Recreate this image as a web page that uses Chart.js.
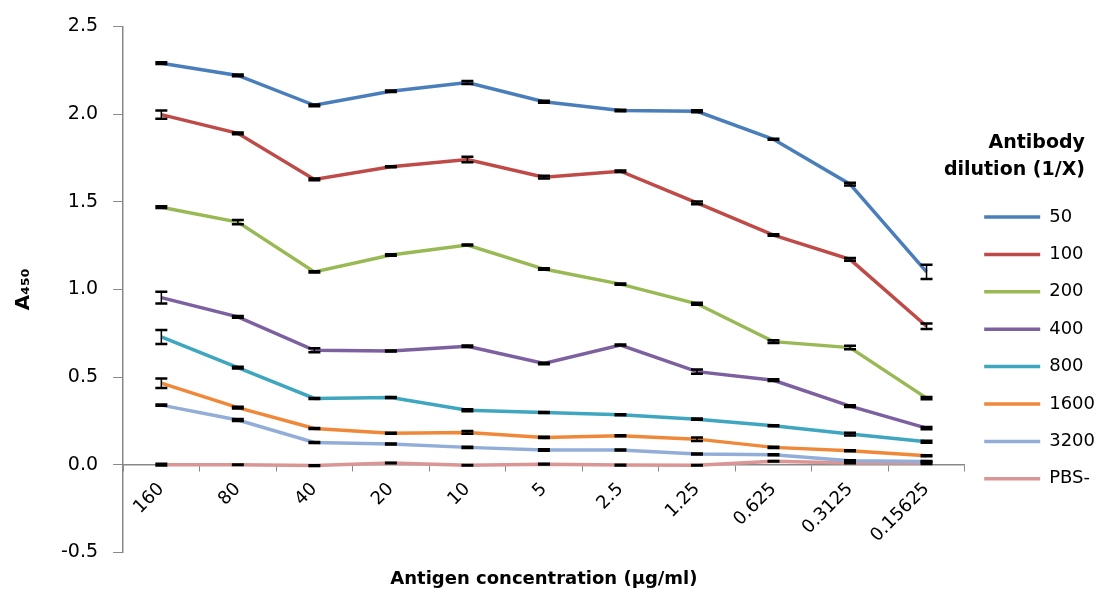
<!DOCTYPE html>
<html>
<head>
<meta charset="utf-8">
<script src="https://cdn.jsdelivr.net/npm/chart.js@4.4.1/dist/chart.umd.min.js"></script>
<style>
  html, body { margin: 0; padding: 0; background: #fff; }
  #wrap { width: 1105px; height: 592px; }
</style>
</head>
<body>
<div id="wrap"><canvas id="elisaChart"></canvas></div>
<script>
// antigen concentration (ug/ml) on the x axis
var concentrations = ['160', '80', '40', '20', '10', '5', '2.5', '1.25', '0.625', '0.3125', '0.15625'];
var yTickValues = [-0.5, 0, 0.5, 1.0, 1.5, 2.0, 2.5];

// A450 per antibody dilution
var a50   = [2.29, 2.22, 2.05, 2.13, 2.18, 2.07, 2.02, 2.016, 1.856, 1.60, 1.10];
var a100  = [1.997, 1.89, 1.627, 1.70, 1.741, 1.64, 1.674, 1.494, 1.31, 1.171, 0.79];
var a200  = [1.469, 1.384, 1.10, 1.196, 1.253, 1.116, 1.03, 0.918, 0.702, 0.668, 0.38];
var a400  = [0.953, 0.843, 0.653, 0.649, 0.676, 0.577, 0.683, 0.531, 0.482, 0.334, 0.209];
var a800  = [0.729, 0.554, 0.378, 0.383, 0.311, 0.298, 0.285, 0.26, 0.222, 0.175, 0.131];
var a1600 = [0.465, 0.326, 0.207, 0.18, 0.184, 0.156, 0.165, 0.146, 0.099, 0.08, 0.051];
var a3200 = [0.34, 0.255, 0.127, 0.118, 0.099, 0.084, 0.084, 0.061, 0.057, 0.023, 0.019];
var aPBS  = [0.0, 0.0, -0.005, 0.01, -0.003, 0.003, -0.002, -0.003, 0.02, 0.01, 0.01];

// error bar half-heights
var err50   = [0.005, 0.005, 0.005, 0.004, 0.008, 0.006, 0.004, 0.006, 0.003, 0.008, 0.04];
var err100  = [0.023, 0.005, 0.005, 0.003, 0.016, 0.008, 0.004, 0.008, 0.004, 0.008, 0.016];
var err200  = [0.005, 0.012, 0.003, 0.004, 0.003, 0.004, 0.003, 0.006, 0.008, 0.01, 0.006];
var err400  = [0.034, 0.005, 0.012, 0.003, 0.004, 0.004, 0.003, 0.012, 0.005, 0.005, 0.006];
var err800  = [0.04, 0.005, 0.003, 0.003, 0.006, 0.003, 0.003, 0.003, 0.003, 0.008, 0.006];
var err1600 = [0.027, 0.005, 0.003, 0.003, 0.008, 0.003, 0.003, 0.01, 0.003, 0.003, 0.003];
var err3200 = [0.003, 0.006, 0.003, 0.003, 0.004, 0.004, 0.003, 0.003, 0.003, 0.003, 0.003];
var errPBS  = [0.005, 0.002, 0.002, 0.002, 0.002, 0.002, 0.002, 0.002, 0.002, 0.002, 0.006];

var dilutionLabels = ['50', '100', '200', '400', '800', '1600', '3200', 'PBS-'];
var legendTitleLines = ['Antibody', 'dilution (1/X)'];
var seriesValues = [a50, a100, a200, a400, a800, a1600, a3200, aPBS];
var seriesErrors = [err50, err100, err200, err400, err800, err1600, err3200, errPBS];
var seriesColors = ['#4A7EBB', '#BE4B48', '#98B954', '#7D60A0', '#3FA6C0', '#F0883A', '#92AED8', '#D99694'];

Chart.defaults.font.family = "'DejaVu Sans', sans-serif";
Chart.defaults.color = '#000';

var errorBars = {
  id: 'errorBars',
  afterDatasetsDraw: function(chart) {
    var ctx = chart.ctx;
    var yScale = chart.scales.y;
    ctx.save();
    ctx.strokeStyle = '#000';
    chart.data.datasets.forEach(function(ds, i) {
      var meta = chart.getDatasetMeta(i);
      meta.data.forEach(function(pt, j) {
        var v = ds.data[j], e = ds.errors[j];
        var top = yScale.getPixelForValue(v + e);
        var bot = yScale.getPixelForValue(v - e);
        ctx.lineWidth = 1.5;
        ctx.beginPath();
        ctx.moveTo(pt.x, top);
        ctx.lineTo(pt.x, bot);
        ctx.stroke();
        ctx.lineWidth = 2.5;
        ctx.beginPath();
        ctx.moveTo(pt.x - 6, top);
        ctx.lineTo(pt.x + 6, top);
        ctx.moveTo(pt.x - 6, bot);
        ctx.lineTo(pt.x + 6, bot);
        ctx.stroke();
      });
    });
    ctx.restore();
  }
};

// legend title drawn outside the legend clip so it can hang left of the box
var legendHeading = {
  id: 'legendHeading',
  afterDraw: function(chart) {
    var lg = chart.legend;
    if (!lg || !lg.legendHitBoxes.length) return;
    var first = lg.legendHitBoxes[0];
    var cy = first.top + first.height / 2;
    var ctx = chart.ctx;
    ctx.save();
    ctx.fillStyle = '#000';
    ctx.font = "bold 19px 'DejaVu Sans', sans-serif";
    ctx.textAlign = 'right';
    ctx.textBaseline = 'middle';
    legendTitleLines.forEach(function(line, i) {
      ctx.fillText(line, lg.right - 20, cy - 74 + i * 27);
    });
    ctx.restore();
  }
};

var datasets = dilutionLabels.map(function(name, i) {
  return {
    label: name,
    data: seriesValues[i],
    errors: seriesErrors[i],
    borderColor: seriesColors[i],
    backgroundColor: seriesColors[i],
    borderWidth: 3.5,
    pointRadius: 0,
    tension: 0,
    fill: false
  };
});

var ctx = document.getElementById('elisaChart').getContext('2d');
var elisaChart = new Chart(ctx, {
  type: 'line',
  data: {
    labels: concentrations,
    datasets: datasets
  },
  plugins: [errorBars, legendHeading],
  options: {
    responsive: true,
    maintainAspectRatio: false,
    animation: false,
    layout: { padding: { top: 25, right: 0, bottom: 0, left: 0 } },
    scales: {
      x: {
        position: { y: 0 },
        offset: true,
        grid: { display: true, offset: true, drawOnChartArea: false, tickLength: 6, color: '#888' },
        border: { color: '#888', width: 1.5 },
        ticks: { autoSkip: false, minRotation: 45, maxRotation: 45, padding: 8, font: { size: 18 } },
        afterFit: function(scale) {
          scale.height = 0;
          scale.paddingLeft = 0;
          scale.paddingRight = 0;
        }
      },
      y: {
        min: -0.5,
        max: 2.5,
        afterBuildTicks: function(axis) {
          axis.ticks = yTickValues.map(function(v) { return { value: v }; });
        },
        grid: { display: true, drawOnChartArea: false, tickLength: 10, color: '#888' },
        border: { color: '#888', width: 1.5 },
        ticks: {
          padding: 15,
          font: { size: 19 },
          callback: function(v) { return Number(v).toFixed(1); }
        },
        title: {
          display: true,
          text: 'A\u2084\u2085\u2080',
          font: { size: 20, weight: 'bold' },
          padding: { top: 12, bottom: 10 }
        }
      }
    },
    plugins: {
      legend: {
        position: 'right',
        align: 'center',
        labels: {
          usePointStyle: true,
          pointStyle: 'line',
          pointStyleWidth: 56,
          padding: 19.4,
          font: { size: 18 }
        },
        title: {
          // space reserved here, text drawn by legendHeading
          display: true,
          text: '',
          font: { size: 19, weight: 'bold', lineHeight: 1.4 },
          padding: { top: 23.7, bottom: 28.5 }
        }
      },
      title: {
        display: true,
        position: 'bottom',
        fullSize: false,
        text: 'Antigen concentration (\u00b5g/ml)',
        font: { size: 18, weight: 'bold' },
        padding: { top: 16, bottom: 2 }
      },
      tooltip: { enabled: false }
    }
  }
});
</script>
</body>
</html>
